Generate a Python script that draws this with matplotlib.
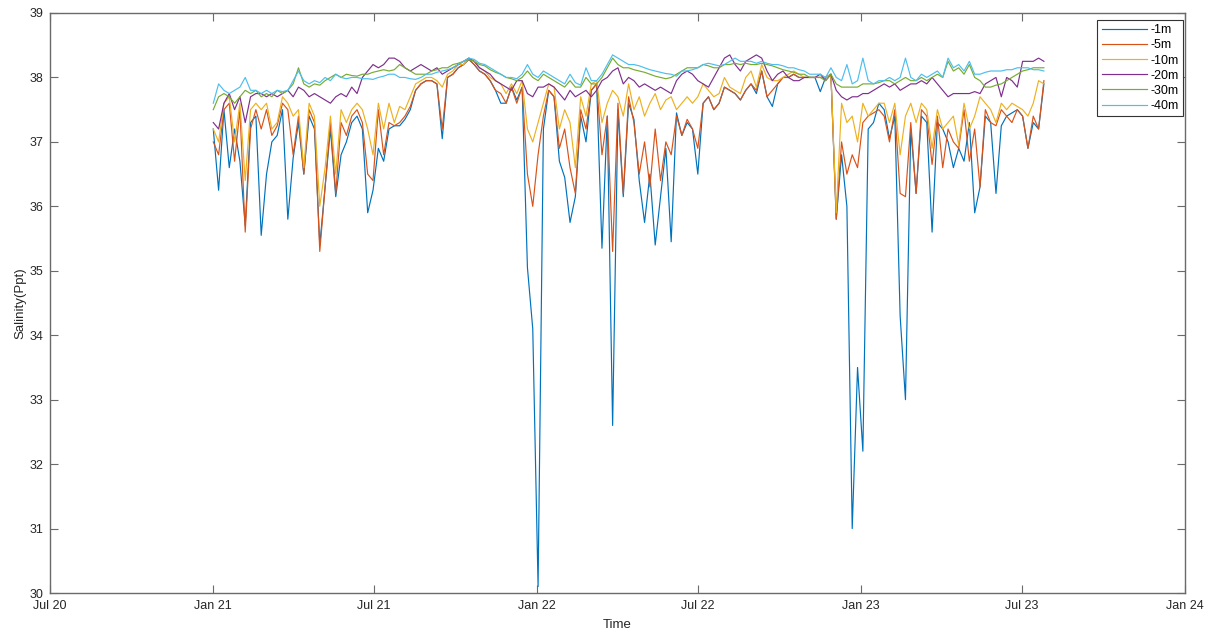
import matplotlib
matplotlib.use("Agg")
import matplotlib.pyplot as plt
import matplotlib.dates as mdates
import pandas as pd

plt.rcParams['font.family'] = ['Liberation Sans', 'DejaVu Sans']

# sampling dates (every 6 days, Jan 2021 - Jul 2023)
dates = pd.date_range('2021-01-01', periods=157, freq='6D')

depth_labels = ['-1m', '-5m', '-10m', '-20m', '-30m', '-40m']
colors = ['#0072BD', '#D95319', '#EDB120', '#7E2F8E', '#77AC30', '#4DBEEE']

s_1m = [
    37.2, 36.25, 37.5, 36.6, 37.2, 36.7, 35.7, 37.3, 37.4, 35.55,
    36.5, 37.0, 37.1, 37.5, 35.8, 36.75, 37.3, 36.5, 37.4, 37.2,
    35.4, 36.3, 37.2, 36.15, 36.8, 37.0, 37.3, 37.4, 37.2, 35.9,
    36.25, 36.9, 36.7, 37.2, 37.25, 37.25, 37.35, 37.5, 37.8, 37.9,
    37.95, 37.95, 37.9, 37.05, 38.0, 38.05, 38.15, 38.2, 38.28, 38.2,
    38.1, 38.05, 37.95, 37.8, 37.6, 37.6, 37.85, 37.65, 37.85, 35.05,
    34.1, 30.1, 37.2, 37.8, 37.7, 36.7, 36.45, 35.75, 36.15, 37.4,
    37.0, 37.8, 37.9, 35.35, 37.4, 32.6, 37.5, 36.15, 37.6, 37.35,
    36.4, 35.75, 36.5, 35.4, 36.15, 36.9, 35.45, 37.45, 37.1, 37.3,
    37.2, 36.5, 37.6, 37.7, 37.5, 37.6, 37.85, 37.8, 37.75, 37.65,
    37.8, 37.9, 37.75, 38.1, 37.7, 37.55, 37.9, 38.0, 38.0, 38.05,
    38.0, 38.0, 38.0, 38.0, 37.78, 38.0, 38.05, 35.8, 36.8, 36.0,
    31.0, 33.5, 32.2, 37.2, 37.3, 37.6, 37.5, 37.05, 37.4, 34.3,
    33.0, 37.2, 36.2, 37.4, 37.3, 35.6, 37.3, 37.2, 37.0, 36.6,
    36.9, 36.7, 37.3, 35.9, 36.3, 37.4, 37.3, 36.2, 37.25, 37.4,
    37.45, 37.5, 37.4, 36.9, 37.3, 37.2, 37.9,
]

s_5m = [
    37.0, 36.8, 37.5, 37.6, 36.7, 37.5, 35.6, 37.2, 37.5, 37.2,
    37.5, 37.1, 37.25, 37.6, 37.5, 36.8, 37.4, 36.5, 37.5, 37.3,
    35.3, 36.3, 37.3, 36.2, 37.3, 37.1, 37.4, 37.5, 37.3, 36.5,
    36.4, 37.5, 36.8, 37.3, 37.25, 37.3, 37.4, 37.55, 37.8, 37.9,
    37.95, 37.95, 37.9, 37.2, 38.0, 38.05, 38.15, 38.2, 38.28, 38.2,
    38.1, 38.05, 37.95, 37.8, 37.75, 37.6, 37.85, 37.6, 37.85, 36.5,
    36.0, 36.8, 37.4, 37.8, 37.7, 36.9, 37.2, 36.6, 36.2, 37.5,
    37.2, 37.8, 37.9, 36.8, 37.4, 35.3, 37.6, 36.2, 37.7, 37.3,
    36.5, 37.0, 36.3, 37.2, 36.4, 37.0, 36.8, 37.4, 37.1, 37.35,
    37.2, 36.9, 37.6, 37.7, 37.5, 37.6, 37.85, 37.8, 37.75, 37.65,
    37.8, 37.9, 37.8, 38.1, 37.7, 37.8, 37.9, 38.0, 38.0, 38.05,
    38.0, 38.0, 38.0, 38.0, 38.0, 38.0, 38.05, 35.8, 37.0, 36.5,
    36.8, 36.6, 37.3, 37.4, 37.45, 37.5, 37.4, 37.0, 37.5, 36.2,
    36.15, 37.3, 36.2, 37.5, 37.4, 36.65, 37.4, 36.6, 37.2, 37.0,
    36.9, 37.5, 36.7, 37.2, 36.3, 37.5, 37.3, 37.25, 37.5, 37.4,
    37.3, 37.5, 37.4, 36.9, 37.4, 37.2, 37.95,
]

s_10m = [
    37.2, 37.0, 37.6, 37.7, 37.0, 37.6, 36.4, 37.5, 37.6, 37.5,
    37.6, 37.2, 37.3, 37.7, 37.6, 37.4, 37.5, 36.6, 37.6, 37.4,
    36.0, 36.6, 37.4, 36.5, 37.5, 37.3, 37.5, 37.6, 37.5, 37.2,
    36.8, 37.6, 37.2, 37.6, 37.3, 37.55, 37.5, 37.7, 37.9, 37.95,
    38.0, 38.0, 37.95, 37.85, 38.05, 38.1, 38.2, 38.2, 38.3, 38.25,
    38.15, 38.1, 38.0, 37.95, 37.9, 37.75, 37.9, 37.75, 37.95, 37.2,
    37.0, 37.3, 37.6, 37.9, 37.85, 37.2, 37.5, 37.3, 36.6, 37.7,
    37.4, 37.9, 37.95, 37.3, 37.6, 37.8, 37.7, 37.4, 37.9, 37.5,
    37.7, 37.4, 37.6, 37.75, 37.5, 37.65, 37.7, 37.5, 37.6, 37.7,
    37.6, 37.7, 37.9, 37.8, 37.7, 37.75, 38.0, 37.85, 37.8, 37.75,
    38.0, 38.1, 37.85, 38.2, 38.0, 37.95, 37.95, 38.0, 38.05, 38.1,
    38.05, 38.0, 38.0, 38.0, 38.0, 38.0, 38.05, 35.9, 37.6, 37.3,
    37.4, 37.0, 37.6, 37.4, 37.5, 37.6, 37.6, 37.3, 37.6, 36.8,
    37.4, 37.6, 37.3, 37.6, 37.5, 36.9, 37.5, 37.2, 37.3, 37.4,
    36.95, 37.6, 37.2, 37.4, 37.7, 37.6, 37.5, 37.3, 37.6, 37.5,
    37.6, 37.55, 37.5, 37.4, 37.6, 37.95, 37.9,
]

s_20m = [
    37.3, 37.2, 37.6, 37.75, 37.5, 37.7, 37.3, 37.7, 37.75, 37.75,
    37.7, 37.75, 37.7, 37.75, 37.8, 37.7, 37.85, 37.8, 37.7, 37.75,
    37.7, 37.65, 37.6, 37.7, 37.75, 37.7, 37.85, 37.75, 38.0, 38.1,
    38.2, 38.15, 38.2, 38.3, 38.3, 38.25, 38.15, 38.1, 38.15, 38.2,
    38.15, 38.1, 38.15, 38.05, 38.1, 38.15, 38.2, 38.25, 38.3, 38.25,
    38.15, 38.1, 38.05, 37.95, 37.9, 37.85, 37.8, 37.95, 37.95, 37.75,
    37.7, 37.85, 37.85, 37.9, 37.85, 37.75, 37.65, 37.8, 37.7, 37.75,
    37.8, 37.7, 37.8, 37.95, 38.0, 38.1, 38.15, 37.9, 38.0, 37.95,
    37.85, 37.9, 37.85, 37.8, 37.85, 37.8, 37.75, 37.95, 38.05, 38.1,
    38.05, 37.95, 37.9, 37.85, 38.0, 38.15, 38.3, 38.35, 38.2, 38.1,
    38.25, 38.3, 38.35, 38.3, 38.1, 37.95, 38.05, 38.1, 38.0, 37.95,
    37.95, 38.0, 38.0, 38.0, 38.05, 37.95, 38.05, 37.8, 37.7, 37.65,
    37.7, 37.7, 37.75, 37.75, 37.8, 37.85, 37.9, 37.85, 37.9, 37.8,
    37.85, 37.9, 37.9, 37.95, 37.9, 38.0, 37.9, 37.8, 37.7, 37.75,
    37.75, 37.75, 37.75, 37.78, 37.75, 37.9, 37.95, 38.0, 37.7, 38.0,
    37.95, 37.85, 38.25, 38.25, 38.25, 38.3, 38.25,
]

s_30m = [
    37.5, 37.7, 37.75, 37.7, 37.6, 37.7, 37.8, 37.75, 37.8, 37.7,
    37.75, 37.7, 37.8, 37.75, 37.8, 37.9, 38.15, 37.9, 37.85, 37.9,
    37.88, 37.95, 38.0, 38.05, 38.0, 38.05, 38.03, 38.02, 38.05, 38.05,
    38.08, 38.1, 38.12, 38.1, 38.12, 38.2, 38.15, 38.1, 38.05, 38.05,
    38.05, 38.1, 38.12, 38.15, 38.15, 38.2, 38.22, 38.25, 38.28, 38.25,
    38.2, 38.18, 38.12, 38.08, 38.05, 38.0, 37.98, 37.95, 38.0, 38.1,
    38.0, 37.95, 38.05, 38.0, 37.95, 37.9, 37.85, 37.95, 37.85, 37.85,
    38.0, 37.9, 37.9, 38.0, 38.15, 38.3, 38.2, 38.15, 38.15, 38.12,
    38.1, 38.08, 38.05, 38.02, 38.0, 37.98, 38.0, 38.05, 38.1, 38.15,
    38.15, 38.15, 38.2, 38.18, 38.15, 38.15, 38.2, 38.2, 38.22, 38.2,
    38.22, 38.2, 38.2, 38.22, 38.2, 38.18, 38.15, 38.12, 38.1, 38.08,
    38.05, 38.05, 38.0, 38.0, 38.0, 37.95, 38.05, 37.9, 37.85, 37.85,
    37.85, 37.85, 37.9, 37.9, 37.9, 37.92, 37.95, 37.95, 37.9, 37.95,
    38.0, 37.95, 37.95, 38.0, 37.95, 38.0, 38.05, 38.0, 38.25, 38.1,
    38.15, 38.05, 38.2, 38.0, 37.95, 37.85, 37.85, 37.88, 37.9, 37.95,
    38.0, 38.05, 38.1, 38.12, 38.15, 38.15, 38.15,
]

s_40m = [
    37.6, 37.9, 37.8, 37.75, 37.8, 37.85, 38.0, 37.8, 37.8, 37.75,
    37.8, 37.75, 37.8, 37.78, 37.8, 37.95, 38.1, 37.95, 37.9, 37.95,
    37.92, 38.0, 37.95, 38.05, 38.0, 37.98, 38.0, 38.0, 37.98, 37.98,
    37.97, 38.0, 38.02, 38.05, 38.05, 38.0, 38.0, 37.98, 37.97, 38.0,
    38.05, 38.05, 38.08, 38.1, 38.12, 38.15, 38.2, 38.25, 38.3, 38.28,
    38.22, 38.2, 38.15, 38.1, 38.05, 38.0, 38.0, 37.98, 38.05, 38.2,
    38.05, 38.0, 38.1, 38.05, 38.0, 37.95, 37.9, 38.05, 37.92, 37.88,
    38.15, 37.95, 37.95, 38.05, 38.2, 38.35, 38.3, 38.25, 38.2, 38.2,
    38.18, 38.15, 38.12, 38.1, 38.08, 38.06, 38.05, 38.02, 38.1, 38.1,
    38.12, 38.15, 38.2, 38.22, 38.2, 38.18, 38.2, 38.25, 38.3, 38.25,
    38.25, 38.25, 38.22, 38.25, 38.22, 38.2, 38.2, 38.18, 38.15, 38.15,
    38.12, 38.1, 38.05, 38.05, 38.05, 38.0, 38.15, 38.0, 37.95, 38.2,
    37.9, 37.95, 38.3, 37.95, 37.9, 37.95, 37.95, 38.0, 37.95, 38.0,
    38.3, 38.0, 37.95, 38.05, 38.0, 38.05, 38.1, 38.0, 38.3, 38.15,
    38.2, 38.1, 38.25, 38.05, 38.05, 38.08, 38.1, 38.1, 38.1, 38.12,
    38.12, 38.15, 38.15, 38.15, 38.12, 38.12, 38.1,
]

series = [s_1m, s_5m, s_10m, s_20m, s_30m, s_40m]

fig = plt.figure(figsize=(12.14, 6.33), dpi=100)
ax = fig.add_axes([50 / 1214, 1 - 593 / 633, 1135 / 1214, 580 / 633])

for vals, lab, col in zip(series, depth_labels, colors):
    ax.plot(dates, vals, color=col, lw=0.85, label=lab)

ax.set_xlim(pd.Timestamp('2020-07-01'), pd.Timestamp('2024-01-01'))
ax.set_ylim(30, 39)
ax.set_yticks(range(30, 40))
ax.xaxis.set_major_locator(mdates.MonthLocator(bymonth=[1, 7]))
ax.xaxis.set_major_formatter(mdates.DateFormatter('%b %y'))

axis_col = '#6a6a6a'
for sp in ax.spines.values():
    sp.set_color(axis_col)
    sp.set_linewidth(1.0)
ax.tick_params(direction='in', length=6, width=0.8, color=axis_col,
               top=True, right=True, labelsize=9, labelcolor='#262626', pad=5)

ax.set_ylabel('Salinity(Ppt)', fontsize=9.5, color='#262626', labelpad=2)
fig.text(617.5 / 1214, 1 - 619 / 633, 'Time', ha='center', va='top',
         fontsize=9.5, color='#262626')

leg = ax.legend(loc='upper right', bbox_to_anchor=(0.9982, 0.988),
                borderaxespad=0, fontsize=9, handlelength=3.6,
                labelspacing=0.25, handletextpad=0.3, borderpad=0.35,
                fancybox=False, framealpha=1, edgecolor='#333333')
leg.get_frame().set_linewidth(0.8)

fig.savefig('out.png', dpi=100)
